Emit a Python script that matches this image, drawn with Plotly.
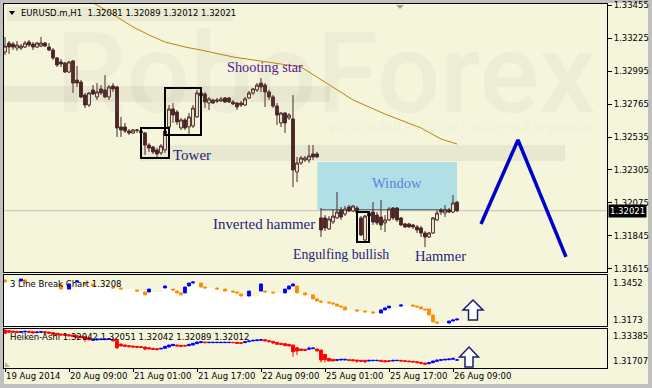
import plotly.graph_objects as go

W, H = 652, 388
BG = "#f5f5dc"
CANDLE = "#4a2626"
FRAME = "#c0c0c0"
UI_FONT = "DejaVu Sans"
SERIF = "Liberation Serif"

# ---------------- data (EURUSD.m, H1) ----------------
open_ = [1.33128, 1.33190, 1.33183, 1.33155, 1.33155, 1.33162, 1.33197, 1.33183, 1.33162, 1.33169,
         1.33190, 1.33162, 1.33141, 1.33086, 1.33058, 1.33051, 1.32988, 1.33065, 1.32932, 1.32918,
         1.32828, 1.32758, 1.32863, 1.32814, 1.32870, 1.32863, 1.32814, 1.32891, 1.32884, 1.32605,
         1.32605, 1.32577, 1.32563, 1.32580, 1.32577, 1.32563, 1.32479, 1.32465, 1.32445, 1.32424,
         1.32445, 1.32605, 1.32730, 1.32709, 1.32598, 1.32654, 1.32605, 1.32612, 1.32675, 1.32842,
         1.32835, 1.32772, 1.32793, 1.32793, 1.32786, 1.32807, 1.32807, 1.32779, 1.32772, 1.32772,
         1.32758, 1.32807, 1.32842, 1.32863, 1.32911, 1.32897, 1.32849, 1.32814, 1.32751, 1.32633,
         1.32702, 1.32668, 1.32661, 1.32291, 1.32354, 1.32375, 1.32375, 1.32417, 1.32417, 1.31971,
         1.31971, 1.31894, 1.31943, 1.31971, 1.32026, 1.31998, 1.32047, 1.32019, 1.32040, 1.31971,
         1.31817, 1.32005, 1.32012, 1.31991, 1.31977, 1.31936, 1.31957, 1.32040, 1.32040, 1.31971,
         1.31929, 1.31929, 1.31922, 1.31908, 1.31901, 1.31866, 1.31838, 1.31866, 1.31957, 1.32026,
         1.32005, 1.32026, 1.32012, 1.32081]
high_ = [1.33232, 1.33204, 1.33197, 1.33204, 1.33183, 1.33204, 1.33211, 1.33197, 1.33197, 1.33232,
         1.33197, 1.33190, 1.33155, 1.33093, 1.33079, 1.33058, 1.33065, 1.33072, 1.33030, 1.32932,
         1.32842, 1.32849, 1.32897, 1.32911, 1.32897, 1.32967, 1.32897, 1.32911, 1.32891, 1.32675,
         1.32633, 1.32591, 1.32591, 1.32591, 1.32598, 1.32570, 1.32493, 1.32472, 1.32458, 1.32486,
         1.32591, 1.32758, 1.32772, 1.32723, 1.32668, 1.32668, 1.32702, 1.32758, 1.32863, 1.32863,
         1.32849, 1.32814, 1.32800, 1.32807, 1.32814, 1.32814, 1.32814, 1.32793, 1.32779, 1.32786,
         1.32814, 1.32856, 1.32877, 1.32911, 1.32946, 1.32911, 1.32863, 1.32828, 1.32772, 1.32709,
         1.32709, 1.32702, 1.32828, 1.32396, 1.32403, 1.32403, 1.32479, 1.32479, 1.32431, 1.32040,
         1.31991, 1.31984, 1.32026, 1.32152, 1.32047, 1.32054, 1.32061, 1.32061, 1.32054, 1.31984,
         1.31991, 1.32019, 1.32082, 1.32012, 1.32096, 1.31991, 1.32047, 1.32047, 1.32047, 1.31977,
         1.31936, 1.31936, 1.31929, 1.31922, 1.31915, 1.31880, 1.31873, 1.31977, 1.32026, 1.32040,
         1.32061, 1.32040, 1.32131, 1.32089]
low_ = [1.33107, 1.33114, 1.33141, 1.33135, 1.33141, 1.33155, 1.33162, 1.33141, 1.33155, 1.33162,
        1.33162, 1.33135, 1.33072, 1.33023, 1.33023, 1.32981, 1.32981, 1.32842, 1.32884, 1.32807,
        1.32737, 1.32744, 1.32828, 1.32793, 1.32828, 1.32807, 1.32793, 1.32849, 1.32535, 1.32535,
        1.32563, 1.32549, 1.32556, 1.32563, 1.32556, 1.32410, 1.32431, 1.32417, 1.32396, 1.32410,
        1.32424, 1.32584, 1.32633, 1.32619, 1.32584, 1.32584, 1.32549, 1.32598, 1.32668, 1.32793,
        1.32737, 1.32723, 1.32765, 1.32772, 1.32779, 1.32772, 1.32772, 1.32758, 1.32723, 1.32744,
        1.32751, 1.32800, 1.32828, 1.32849, 1.32849, 1.32744, 1.32793, 1.32737, 1.32619, 1.32605,
        1.32563, 1.32654, 1.32186, 1.32221, 1.32340, 1.32361, 1.32354, 1.32375, 1.32389, 1.31838,
        1.31880, 1.31887, 1.31929, 1.31964, 1.31957, 1.31984, 1.32012, 1.32012, 1.31984, 1.31845,
        1.31810, 1.31971, 1.31922, 1.31922, 1.31887, 1.31873, 1.31950, 1.31957, 1.31943, 1.31915,
        1.31901, 1.31901, 1.31894, 1.31866, 1.31838, 1.31768, 1.31831, 1.31859, 1.31950, 1.31991,
        1.31977, 1.32005, 1.32005, 1.32012]
close_ = [1.33169, 1.33162, 1.33162, 1.33176, 1.33169, 1.33190, 1.33176, 1.33162, 1.33190, 1.33190,
          1.33169, 1.33141, 1.33086, 1.33037, 1.33044, 1.32988, 1.33058, 1.32911, 1.32911, 1.32814,
          1.32758, 1.32842, 1.32835, 1.32849, 1.32842, 1.32814, 1.32884, 1.32870, 1.32598, 1.32584,
          1.32577, 1.32563, 1.32584, 1.32584, 1.32563, 1.32479, 1.32458, 1.32431, 1.32417, 1.32472,
          1.32577, 1.32730, 1.32688, 1.32640, 1.32654, 1.32598, 1.32675, 1.32737, 1.32842, 1.32821,
          1.32779, 1.32800, 1.32772, 1.32786, 1.32800, 1.32779, 1.32779, 1.32765, 1.32744, 1.32758,
          1.32800, 1.32842, 1.32870, 1.32897, 1.32884, 1.32849, 1.32814, 1.32751, 1.32688, 1.32702,
          1.32633, 1.32688, 1.32305, 1.32354, 1.32389, 1.32389, 1.32403, 1.32396, 1.32396, 1.31887,
          1.31901, 1.31964, 1.31984, 1.32012, 1.31977, 1.32033, 1.32019, 1.32054, 1.32012, 1.31852,
          1.31984, 1.31984, 1.31943, 1.31936, 1.31922, 1.31957, 1.32033, 1.31971, 1.31957, 1.31922,
          1.31908, 1.31908, 1.31908, 1.31887, 1.31866, 1.31838, 1.31866, 1.31971, 1.32005, 1.32012,
          1.32026, 1.32012, 1.32075, 1.32021]
bars = list(range(len(open_)))

time_tick_idx = [0, 16, 32, 48, 64, 80, 96, 112]
time_tick_text = ["19 Aug 2014", "20 Aug 09:00", "21 Aug 01:00", "21 Aug 17:00",
                  "22 Aug 09:00", "25 Aug 01:00", "25 Aug 17:00", "26 Aug 09:00"]
price_ticks = [1.31615, 1.31845, 1.32075, 1.32305, 1.32535, 1.32765, 1.32995, 1.33225, 1.33455]
last_price = 1.32021

# moving average
ma_idx = [15, 23, 28, 32, 36, 40, 45, 49, 57, 65, 74, 78, 83, 87, 95, 104, 109, 113]
ma_val = [1.33574, 1.33455, 1.33372, 1.33302, 1.33246, 1.33197, 1.33162, 1.33141, 1.33093,
          1.33058, 1.33023, 1.32953, 1.32863, 1.32793, 1.32695, 1.32598, 1.32521, 1.32486]

# forecast zig-zag
zz_idx = [119, 128.25, 140.25]
zz_val = [1.31929, 1.32514, 1.31699]

# 3 Line Break blocks
lb_idx = [0, 4, 5, 14, 16, 18, 20, 22, 27, 29,
          33, 35, 36, 40, 42, 43, 44, 45, 46, 47,
          49, 50, 53, 55, 57, 58, 59, 61, 64, 65,
          67, 70, 71, 72, 73, 75, 77, 78, 79, 81,
          82, 83, 84, 85, 88, 90, 92, 94, 95, 96,
          99, 102, 103, 104, 105, 106, 107, 108, 111, 112,
          113]
lb_open = [1.3425, 1.3419, 1.3425, 1.3397, 1.3375, 1.3414, 1.3408, 1.3403, 1.3386, 1.3381,
           1.3370, 1.3359, 1.3359, 1.3381, 1.3375, 1.3364, 1.3354, 1.3354, 1.3392, 1.3408,
           1.3408, 1.3386, 1.3381, 1.3375, 1.3364, 1.3359, 1.3348, 1.3337, 1.3364, 1.3364,
           1.3359, 1.3354, 1.3375, 1.3392, 1.3392, 1.3354, 1.3343, 1.3321, 1.3310, 1.3304,
           1.3299, 1.3293, 1.3282, 1.3277, 1.3261, 1.3255, 1.3250, 1.3244, 1.3261, 1.3272,
           1.3282, 1.3288, 1.3282, 1.3277, 1.3266, 1.3266, 1.3233, 1.3195, 1.3189, 1.3200,
           1.3206]
lb_close = [1.3414, 1.3430, 1.3408, 1.3375, 1.3403, 1.3420, 1.3397, 1.3392, 1.3381, 1.3375,
            1.3364, 1.3343, 1.3375, 1.3392, 1.3370, 1.3354, 1.3343, 1.3386, 1.3408, 1.3414,
            1.3386, 1.3381, 1.3375, 1.3364, 1.3359, 1.3354, 1.3337, 1.3364, 1.3403, 1.3359,
            1.3354, 1.3375, 1.3392, 1.3403, 1.3354, 1.3343, 1.3321, 1.3310, 1.3304, 1.3299,
            1.3293, 1.3282, 1.3277, 1.3261, 1.3255, 1.3250, 1.3244, 1.3261, 1.3272, 1.3282,
            1.3288, 1.3282, 1.3277, 1.3266, 1.3261, 1.3233, 1.3195, 1.3189, 1.3200, 1.3206,
            1.3211]

# Heiken-Ashi
ha_open = [1.33321, 1.33293, 1.33279, 1.33265, 1.33222, 1.33236, 1.33265, 1.33251, 1.33208, 1.33222,
           1.33251, 1.33236, 1.33208, 1.33180, 1.33151, 1.33137, 1.33123, 1.33109, 1.33081, 1.33052,
           1.33038, 1.32996, 1.32882, 1.32897, 1.32911, 1.32911, 1.32925, 1.32925, 1.32868, 1.32727,
           1.32684, 1.32655, 1.32641, 1.32627, 1.32613, 1.32599, 1.32570, 1.32542, 1.32528, 1.32514,
           1.32542, 1.32599, 1.32655, 1.32684, 1.32670, 1.32670, 1.32655, 1.32684, 1.32741, 1.32783,
           1.32811, 1.32783, 1.32783, 1.32783, 1.32783, 1.32783, 1.32783, 1.32797, 1.32797, 1.32783,
           1.32783, 1.32826, 1.32854, 1.32868, 1.32882, 1.32911, 1.32868, 1.32840, 1.32797, 1.32755,
           1.32741, 1.32712, 1.32684, 1.32570, 1.32514, 1.32500, 1.32500, 1.32528, 1.32514, 1.32471,
           1.32287, 1.32117, 1.32075, 1.32032, 1.32046, 1.32046, 1.32060, 1.32060, 1.32046, 1.32032,
           1.32032, 1.32004, 1.32018, 1.32018, 1.32032, 1.32018, 1.32018, 1.32004, 1.32018, 1.32032,
           1.32018, 1.32004, 1.31989, 1.31975, 1.31947, 1.31919, 1.31890, 1.31933, 1.31989, 1.32032,
           1.32046, 1.32060, 1.32075, 1.32042]
ha_close = [1.33180, 1.33222, 1.33222, 1.33208, 1.33251, 1.33265, 1.33222, 1.33194, 1.33236, 1.33251,
            1.33208, 1.33180, 1.33137, 1.33109, 1.33109, 1.33095, 1.33066, 1.33038, 1.33010, 1.32996,
            1.32911, 1.32911, 1.32925, 1.32939, 1.32939, 1.32939, 1.32953, 1.32854, 1.32570, 1.32641,
            1.32627, 1.32613, 1.32599, 1.32585, 1.32585, 1.32514, 1.32514, 1.32500, 1.32485, 1.32542,
            1.32627, 1.32684, 1.32712, 1.32641, 1.32627, 1.32641, 1.32712, 1.32755, 1.32811, 1.32826,
            1.32783, 1.32797, 1.32797, 1.32797, 1.32797, 1.32797, 1.32797, 1.32783, 1.32755, 1.32755,
            1.32826, 1.32854, 1.32882, 1.32897, 1.32911, 1.32854, 1.32826, 1.32769, 1.32712, 1.32712,
            1.32655, 1.32641, 1.32400, 1.32429, 1.32457, 1.32457, 1.32542, 1.32556, 1.32429, 1.32046,
            1.32060, 1.32004, 1.32004, 1.32060, 1.32075, 1.32075, 1.32032, 1.32018, 1.32004, 1.31989,
            1.31975, 1.32032, 1.32032, 1.32032, 1.31989, 1.31975, 1.31989, 1.32032, 1.32032, 1.32004,
            1.31989, 1.31975, 1.31961, 1.31933, 1.31905, 1.31862, 1.31933, 1.32004, 1.32046, 1.32060,
            1.32075, 1.32089, 1.32117, 1.32051]
ha_low_wick = {20: 1.32826, 21: 1.32868, 28: 1.32514, 35: 1.32457, 67: 1.32741, 72: 1.32188,
               73: 1.32259, 79: 1.31947, 80: 1.31947, 88: 1.31933, 90: 1.31919, 104: 1.31862,
               105: 1.31834, 113: 1.32012}
ha_high_wick = {76: 1.32613, 113: 1.32089}

# ---------------- geometry helpers ----------------
X_RANGE = [-0.25, 150.5]
Y1_RANGE = [1.31594, 1.33462]
Y2_RANGE = [1.3173, 1.3452]
Y3_RANGE = [1.31707, 1.33385]


def px(x):
    return x / W


def py(y):
    return 1 - y / H


X_DOM = [px(4), px(607)]
Y1_DOM = [py(272), py(4)]
Y2_DOM = [py(326), py(275)]
Y3_DOM = [py(368), py(328.5)]

fig = go.Figure()

# main candles
fig.add_trace(go.Candlestick(
    x=bars, open=open_, high=high_, low=low_, close=close_, xaxis="x", yaxis="y",
    increasing=dict(fillcolor=BG, line=dict(color=CANDLE, width=1)),
    decreasing=dict(fillcolor=CANDLE, line=dict(color=CANDLE, width=1)),
    whiskerwidth=0, showlegend=False, hoverinfo="skip"))
fig.add_trace(go.Scatter(x=ma_idx, y=ma_val, mode="lines", xaxis="x", yaxis="y",
                         line=dict(color="#b8860b", width=1), showlegend=False, hoverinfo="skip"))
fig.add_trace(go.Scatter(x=zz_idx, y=zz_val, mode="lines", xaxis="x", yaxis="y",
                         line=dict(color="#0000cd", width=3.5), showlegend=False, hoverinfo="skip"))

# 3 line break
lb_high = [max(o, c) for o, c in zip(lb_open, lb_close)]
lb_low = [min(o, c) for o, c in zip(lb_open, lb_close)]
fig.add_trace(go.Candlestick(
    x=lb_idx, open=lb_open, high=lb_high, low=lb_low, close=lb_close, xaxis="x2", yaxis="y2",
    increasing=dict(fillcolor="#0000ff", line=dict(color="#0000ff", width=1)),
    decreasing=dict(fillcolor="#ff8c00", line=dict(color="#ff8c00", width=1)),
    whiskerwidth=0, showlegend=False, hoverinfo="skip"))

# heiken ashi
ha_high = [max(o, c, ha_high_wick.get(i, 0)) for i, (o, c) in enumerate(zip(ha_open, ha_close))]
ha_low = [min(o, c, ha_low_wick.get(i, 9)) for i, (o, c) in enumerate(zip(ha_open, ha_close))]
fig.add_trace(go.Candlestick(
    x=bars, open=ha_open, high=ha_high, low=ha_low, close=ha_close, xaxis="x3", yaxis="y3",
    increasing=dict(fillcolor="#0000ff", line=dict(color="#0000ff", width=1)),
    decreasing=dict(fillcolor="#ff0000", line=dict(color="#ff0000", width=1)),
    whiskerwidth=0, showlegend=False, hoverinfo="skip"))

shapes = []
# frame strips
for x0, y0, x1, y1 in [(0, 0, 4, H), (0, 0, W, 3), (648, 0, W, H), (0, 384, W, H)]:
    shapes.append(dict(type="rect", xref="paper", yref="paper", x0=px(x0), x1=px(x1),
                       y0=py(y1), y1=py(y0), fillcolor=FRAME, line=dict(width=0), layer="below"))
# header box
shapes.append(dict(type="rect", xref="paper", yref="paper", x0=px(7), x1=px(233), y0=py(21), y1=py(7),
                   fillcolor="#ebead3", line=dict(width=0), layer="below"))
# horizontal bands
shapes.append(dict(type="rect", xref="x", yref="y", x0=-0.25, x1=81.25, y0=1.32779, y1=1.32891,
                   fillcolor="#e8e7cf", line=dict(width=0), layer="below"))
shapes.append(dict(type="rect", xref="x", yref="y", x0=33.75, x1=140, y0=1.32368, y1=1.32479,
                   fillcolor="#e8e7cf", line=dict(width=0), layer="below"))
# window
shapes.append(dict(type="rect", xref="x", yref="y", x0=78.1, x1=113, y0=1.32026, y1=1.32361,
                   fillcolor="#b0e0e6", line=dict(width=0), layer="below"))
shapes.append(dict(type="line", xref="x", yref="y", x0=79, x1=113, y0=1.32026, y1=1.32026,
                   line=dict(color="#3f5f5f", width=1.5), layer="below"))
# current price line
shapes.append(dict(type="line", xref="x", yref="y", x0=X_RANGE[0], x1=X_RANGE[1], y0=last_price,
                   y1=last_price, line=dict(color="#c0c0c0", width=1), layer="below"))
# pattern boxes
for x0, x1, y0, y1 in [(34, 41, 1.32389, 1.32598), (40, 49, 1.32549, 1.32877), (88, 91, 1.31803, 1.32012)]:
    shapes.append(dict(type="rect", xref="x", yref="y", x0=x0, x1=x1, y0=y0, y1=y1,
                       line=dict(color="black", width=2), fillcolor="rgba(0,0,0,0)", layer="above"))

# white area under the line-break blocks
pts = []
for k, i in enumerate(lb_idx):
    lo = lb_low[k]
    xe = lb_idx[k + 1] - 0.5 if k + 1 < len(lb_idx) else i + 0.5
    pts += [(i - 0.5, lo), (xe, lo)]
path = f"M {pts[0][0]},{Y2_RANGE[0]} " + " ".join(f"L {x},{y}" for x, y in pts) + \
       f" L {pts[-1][0]},{Y2_RANGE[0]} Z"
shapes.append(dict(type="path", xref="x2", yref="y2", path=path, fillcolor="white",
                   line=dict(width=0), layer="below"))


def arrow(tip_x, tip_y, head_y, half, shaft, bottom):
    p = [(tip_x, tip_y), (tip_x + half, head_y), (tip_x + shaft, head_y), (tip_x + shaft, bottom),
         (tip_x - shaft, bottom), (tip_x - shaft, head_y), (tip_x - half, head_y)]
    return "M " + " L ".join(f"{px(a)},{py(b)}" for a, b in p) + " Z"


for a in [arrow(473, 300, 310, 10, 4.5, 320), arrow(469, 347, 357, 9.5, 4, 367)]:
    shapes.append(dict(type="path", xref="paper", yref="paper", path=a, fillcolor="white",
                       line=dict(color="#1c1c70", width=1.5), layer="above"))


def tri(p):
    return "M " + " L ".join(f"{px(a)},{py(b)}" for a, b in p) + " Z"


shapes.append(dict(type="path", xref="paper", yref="paper", path=tri([(396, 5), (404, 5), (400, 9)]),
                   fillcolor="#a0a0a0", line=dict(width=0)))
shapes.append(dict(type="path", xref="paper", yref="paper", path=tri([(5, 362), (5, 367), (10, 367)]),
                   fillcolor="#b0b0b0", line=dict(width=0)))
shapes.append(dict(type="path", xref="paper", yref="paper", path=tri([(9, 11), (15, 11), (12, 15)]),
                   fillcolor="black", line=dict(width=0)))

ann = []
wm = "rgba(140,150,130,0.08)"
ann.append(dict(xref="paper", yref="paper", x=px(326), y=py(73), text="RoboForex", showarrow=False,
                font=dict(family="Roboto", size=112, color=wm, weight=500), xanchor="center", yanchor="middle"))
ann.append(dict(xref="paper", yref="paper", x=px(594), y=py(128), text="ИСПОЛЬЗУЙ РОБОТОВ – ПОЛУЧАЙ ПРИБЫЛЬ",
                showarrow=False, font=dict(family="Roboto", size=12, color=wm), xanchor="right", yanchor="middle"))

ann.append(dict(xref="paper", yref="paper", x=px(19), y=py(13.5),
                text="EURUSD.m,H1  1.32081 1.32089 1.32012 1.32021", showarrow=False,
                font=dict(family=UI_FONT, size=8.5, color="black"), xanchor="left", yanchor="middle"))

labels = [("Shooting star", 65, 1.33023, "#5a189a", 14.3),
          ("Tower", 46.75, 1.32410, "#1e1e7a", 15),
          ("Inverted hammer", 64.75, 1.31929, "#1e1e7a", 14.9),
          ("Engulfing bullish", 84, 1.31713, "#1e1e7a", 13.8),
          ("Hammer", 108.75, 1.31706, "#1e1e7a", 14.6),
          ("Window", 98, 1.32214, "#5b7fe0", 14.5)]
for t, x, y, c, s in labels:
    ann.append(dict(xref="x", yref="y", x=x, y=y, text=t, showarrow=False,
                    font=dict(family=SERIF, size=s, color=c), xanchor="center", yanchor="middle"))

# current price label
ann.append(dict(xref="paper", yref="y", x=px(608), y=last_price, text="1.32021", showarrow=False,
                font=dict(family=UI_FONT, size=8.5, color="white"), bgcolor="black",
                xanchor="left", yanchor="middle", borderpad=1))

# sub-window labels
for t, y in [("1.3452", 283), ("1.3173", 320), ("1.33385", 335.7), ("1.31707", 360.7)]:
    ann.append(dict(xref="paper", yref="paper", x=px(611), y=py(y), text=t, showarrow=False,
                    font=dict(family=UI_FONT, size=8.5, color="black"), xanchor="left", yanchor="middle"))
ann.append(dict(xref="paper", yref="paper", x=px(8), y=py(284), text="3 Line Break Chart 1.3208",
                showarrow=False, font=dict(family=UI_FONT, size=8.5, color="black"),
                xanchor="left", yanchor="middle"))
ann.append(dict(xref="paper", yref="paper", x=px(8), y=py(337),
                text="Heiken-Ashi 1.32042 1.32051 1.32042 1.32089 1.32012",
                showarrow=False, font=dict(family=UI_FONT, size=8.5, color="black"),
                xanchor="left", yanchor="middle"))

axis_common = dict(showgrid=False, zeroline=False, showline=True, mirror=True,
                   linecolor="black", linewidth=1, fixedrange=True, automargin=False)

fig.update_layout(
    width=W, height=H, margin=dict(l=0, r=0, t=0, b=0, autoexpand=False),
    paper_bgcolor=BG, plot_bgcolor=BG, showlegend=False, hovermode=False,
    boxgap=0.3, boxgroupgap=0,
    shapes=shapes, annotations=ann,
    xaxis=dict(domain=X_DOM, range=X_RANGE, anchor="y", showticklabels=False, ticks="",
               rangeslider=dict(visible=False), **axis_common),
    yaxis=dict(domain=Y1_DOM, range=Y1_RANGE, anchor="x", side="right", tickvals=price_ticks,
               tickformat=".5f", ticks="outside", ticklen=4, tickcolor="black",
               ticklabeloverflow="allow",
               tickfont=dict(family=UI_FONT, size=8.5, color="black"), **axis_common),
    xaxis2=dict(domain=X_DOM, range=X_RANGE, anchor="y2", showticklabels=False, ticks="",
                rangeslider=dict(visible=False), **axis_common),
    yaxis2=dict(domain=Y2_DOM, range=Y2_RANGE, anchor="x2", showticklabels=False, ticks="", **axis_common),
    xaxis3=dict(domain=X_DOM, range=X_RANGE, anchor="y3", tickvals=time_tick_idx, ticktext=time_tick_text,
                ticks="outside", ticklen=3, tickcolor="black", ticklabelposition="outside right",
                tickangle=0, ticklabeloverflow="allow",
                tickfont=dict(family=UI_FONT, size=8.5, color="black"),
                rangeslider=dict(visible=False), **axis_common),
    yaxis3=dict(domain=Y3_DOM, range=Y3_RANGE, anchor="x3", showticklabels=False, ticks="", **axis_common),
)

fig.write_html("out.html")
